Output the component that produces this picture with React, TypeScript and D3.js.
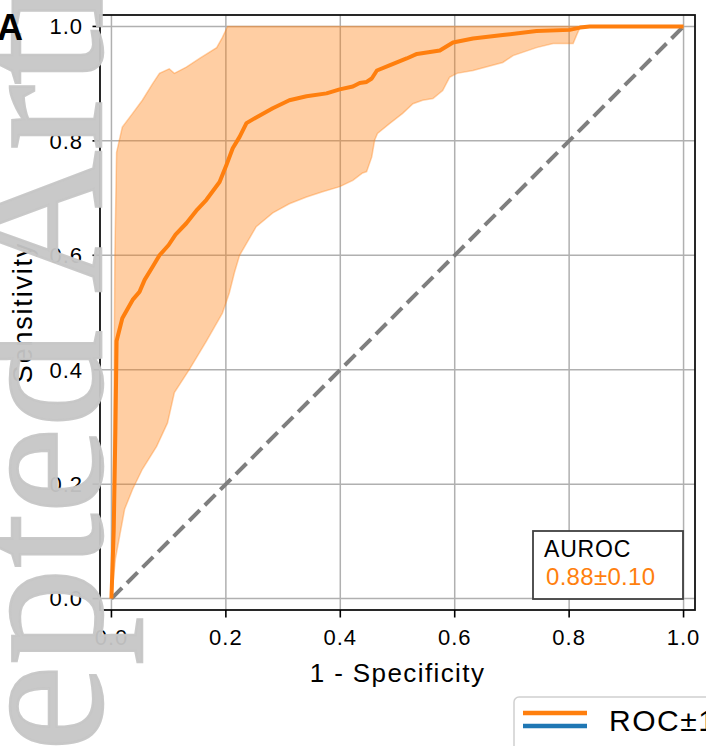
import * as d3 from "d3";

// ROC curve: [1 - specificity, sensitivity]
const meanRoc: [number, number][] = [
  [0, 0], [0.004, 0.12], [0.007, 0.3], [0.009, 0.45], [0.019, 0.49], [0.037, 0.522],
  [0.049, 0.536], [0.058, 0.557], [0.072, 0.58], [0.084, 0.6], [0.1, 0.618], [0.112, 0.636],
  [0.131, 0.656], [0.15, 0.68], [0.166, 0.697], [0.189, 0.728], [0.201, 0.758], [0.212, 0.787],
  [0.224, 0.807], [0.236, 0.831], [0.253, 0.841], [0.282, 0.857], [0.311, 0.871], [0.341, 0.878],
  [0.376, 0.883], [0.399, 0.89], [0.422, 0.895], [0.434, 0.901], [0.446, 0.903], [0.455, 0.909],
  [0.464, 0.923], [0.486, 0.932], [0.516, 0.944], [0.534, 0.952], [0.574, 0.958], [0.597, 0.972],
  [0.632, 0.979], [0.684, 0.985], [0.743, 0.992], [0.801, 0.994], [0.819, 0.998], [0.836, 1.0],
  [1, 1],
];

// +1 std band
const upperRoc: [number, number][] = [
  [0, 0], [0.002, 0.1], [0.004, 0.3], [0.006, 0.6], [0.009, 0.78], [0.019, 0.824],
  [0.037, 0.848], [0.054, 0.871], [0.072, 0.9], [0.084, 0.918], [0.101, 0.926], [0.11, 0.918],
  [0.131, 0.929], [0.154, 0.944], [0.184, 0.963], [0.194, 0.981], [0.203, 1.0], [1, 1],
];

// -1 std band
const lowerRoc: [number, number][] = [
  [0, 0], [0.007, 0.07], [0.023, 0.156], [0.037, 0.191], [0.054, 0.226], [0.079, 0.266],
  [0.098, 0.307], [0.11, 0.36], [0.136, 0.4], [0.166, 0.45], [0.194, 0.499], [0.206, 0.534],
  [0.215, 0.57], [0.224, 0.6], [0.253, 0.65], [0.282, 0.674], [0.311, 0.69], [0.341, 0.702],
  [0.369, 0.711], [0.399, 0.72], [0.422, 0.731], [0.439, 0.744], [0.446, 0.746], [0.455, 0.772],
  [0.46, 0.801], [0.465, 0.813], [0.486, 0.83], [0.509, 0.848], [0.527, 0.865], [0.544, 0.871],
  [0.562, 0.874], [0.579, 0.888], [0.591, 0.911], [0.604, 0.918], [0.632, 0.923], [0.684, 0.937],
  [0.702, 0.949], [0.743, 0.963], [0.772, 0.97], [0.807, 0.97], [0.814, 0.987], [0.819, 0.998],
  [0.825, 1.0], [1, 1],
];

const chanceLine: [number, number][] = [[0, 0], [1, 1]];
const tickValues = [0, 0.2, 0.4, 0.6, 0.8, 1.0];
const aurocLabel = "AUROC";
const aurocValue = "0.88±0.10";
const legendLabel = "ROC±1 std";
const watermarkWords = ["Accepted", "Article"];

const W = 706;
const H = 746;
const M = { left: 100, right: 695, top: 15, bottom: 610 };
const ORANGE = "#ff7f0e";
const BLUE = "#1f77b4";
const FONT = "'Liberation Sans', Arial, sans-serif";
const SERIF = "'Liberation Serif', 'Times New Roman', 'DejaVu Serif', serif";

export default function App() {
  const x = d3.scaleLinear().domain([-0.02, 1.02]).range([M.left, M.right]);
  const y = d3.scaleLinear().domain([-0.02, 1.02]).range([M.bottom, M.top]);
  const line = d3.line<[number, number]>().x((d) => x(d[0])).y((d) => y(d[1]));
  const band = line(upperRoc.concat(lowerRoc.slice().reverse())) + "Z";
  const fmt = d3.format(".1f");

  return (
    <svg width={W} height={H} style={{ position: "absolute", left: 0, top: 0, background: "#fff" }} fontFamily={FONT}>
      <rect x={0} y={0} width={W} height={H} fill="#fff" />

      {/* grid */}
      <g stroke="#b0b0b0" strokeWidth={1.5}>
        {tickValues.map((t) => (
          <line key={"gx" + t} x1={x(t)} x2={x(t)} y1={M.top} y2={M.bottom} />
        ))}
        {tickValues.map((t) => (
          <line key={"gy" + t} x1={M.left} x2={M.right} y1={y(t)} y2={y(t)} />
        ))}
      </g>

      {/* std band */}
      <path d={band} fill={ORANGE} fillOpacity={0.38} stroke={ORANGE} strokeOpacity={0.35} strokeWidth={1.5} />
      {/* chance */}
      <path d={line(chanceLine) ?? ""} fill="none" stroke="#7f7f7f" strokeWidth={4} strokeDasharray="15,7" />
      {/* mean ROC */}
      <path d={line(meanRoc) ?? ""} fill="none" stroke={ORANGE} strokeWidth={4} strokeLinejoin="round" />

      {/* frame */}
      <rect x={M.left} y={M.top} width={M.right - M.left} height={M.bottom - M.top} fill="none" stroke="#111" strokeWidth={1.8} />

      {/* ticks */}
      <g stroke="#000" strokeWidth={1.6}>
        {tickValues.map((t) => (
          <line key={"tx" + t} x1={x(t)} x2={x(t)} y1={M.bottom} y2={M.bottom + 7.5} />
        ))}
        {tickValues.map((t) => (
          <line key={"ty" + t} x1={M.left - 7.5} x2={M.left} y1={y(t)} y2={y(t)} />
        ))}
      </g>
      <g fontSize={22} fill="#000" letterSpacing={1}>
        {tickValues.map((t) => (
          <text key={"lx" + t} x={x(t)} y={645} textAnchor="middle">{fmt(t)}</text>
        ))}
        {tickValues.map((t) => (
          <text key={"ly" + t} x={83} y={y(t)} dy="0.36em" textAnchor="end">{fmt(t)}</text>
        ))}
      </g>

      <text x={(M.left + M.right) / 2} y={682} textAnchor="middle" fontSize={26} letterSpacing={1.4} fill="#000">1 - Specificity</text>
      <text transform={`translate(32,${(M.top + M.bottom) / 2}) rotate(-90)`} textAnchor="middle" fontSize={27} letterSpacing={1.8} fill="#000">Sensitivity</text>

      {/* AUROC box */}
      <rect x={533} y={531} width={150} height={68} fill="#fff" stroke="#404040" strokeWidth={1.8} />
      <text x={544} y={557} fontSize={23} letterSpacing={0.8} fill="#000">{aurocLabel}</text>
      <text x={546} y={585} fontSize={24} letterSpacing={0.3} fill={ORANGE}>{aurocValue}</text>

      {/* legend (cut off at the right edge, as in the source) */}
      <rect x={514} y={697} width={220} height={80} rx={5} fill="#fff" stroke="#d0d0d0" strokeWidth={1.5} />
      <line x1={523} x2={587} y1={713} y2={713} stroke={ORANGE} strokeWidth={4.5} />
      <line x1={523} x2={587} y1={726} y2={726} stroke={BLUE} strokeWidth={4.5} />
      <text x={609} y={731} fontSize={30} letterSpacing={1.5} fill="#000">{legendLabel}</text>

      {/* journal watermark, running up the left edge */}
      <g fontFamily={SERIF} fontSize={193} fill="#c6c6c6" fillOpacity={0.95} stroke="#c6c6c6" strokeOpacity={0.95} strokeWidth={2.5}>
        <text transform="translate(101,330) rotate(-90)" textAnchor="end" textLength={735} lengthAdjust="spacingAndGlyphs">
          {watermarkWords[0]}
        </text>
        <text transform="translate(101,293) rotate(-90)" textLength={548} lengthAdjust="spacingAndGlyphs">
          {watermarkWords[1]}
        </text>
      </g>

      {/* panel letter */}
      <text x={-3} y={40} fontSize={36} fontWeight="bold" fill="#000">A</text>
    </svg>
  );
}
